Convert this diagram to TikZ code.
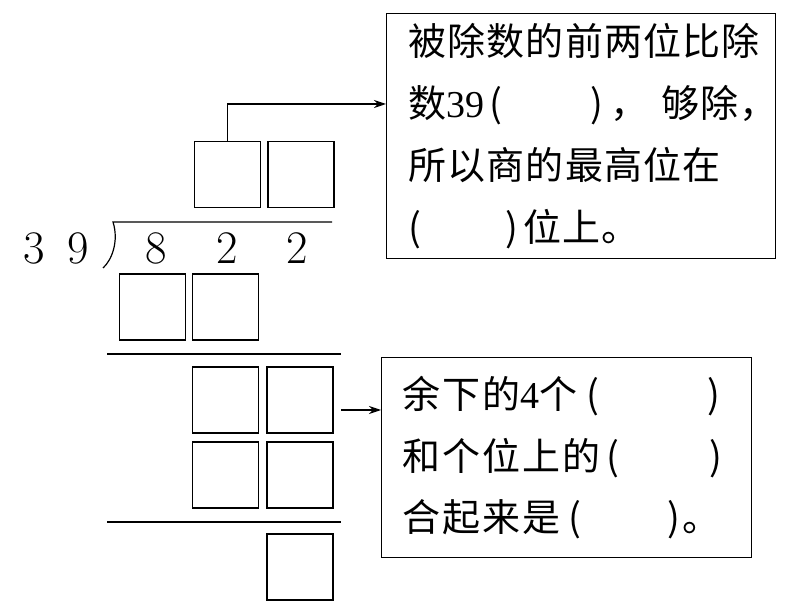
\documentclass[tikz,border=0pt]{standalone}
\usepackage{fontspec}
\usetikzlibrary{arrows.meta}
\newfontfamily\cjk[LetterSpace=3]{Noto Sans CJK SC}
\newfontfamily\cjkwide[LetterSpace=5]{Noto Sans CJK SC}
\newfontfamily\lat{Liberation Serif}
\begin{document}
\begin{tikzpicture}[>={Stealth[length=9pt,width=6pt]}, x=0.75pt, y=-0.75pt, line width=0.9pt,
  cell/.style={draw, minimum size=49.5pt, inner sep=0pt},
  digit/.style={font=\fontsize{35pt}{42pt}\selectfont, inner sep=0pt},
  note/.style={draw, anchor=north west, align=left, inner ysep=0pt}]
\useasboundingbox (0,0) rectangle (785,605);
% divisor and dividend
\node[digit] (d3) at (34.5,248) {3};
\node[digit] (d9) at (78,248) {9};
\node[digit] (n8) at (156,248) {8};
\node[digit] (n2a) at (227,248) {2};
\node[digit] (n2b) at (297,248) {2};
\draw (332,222) -- (113,222) .. controls (119,241) and (112,260) .. (103,268);
% quotient
\node[cell] (q1) at (227.5,174.5) {};
\node[cell] (q2) at (301,174.5) {};
% first product
\node[cell] (p1) at (152.5,307) {};
\node[cell] (p2) at (225.5,307) {};
\draw (107,354) -- (341,354);
% remainder and second product
\node[cell] (r1) at (225.5,400) {};
\node[cell] (r2) at (300,400) {};
\node[cell] (s1) at (225.5,475) {};
\node[cell] (s2) at (300,475) {};
\draw (107,522) -- (341,522);
\node[cell] (f) at (300,567) {};
% notes
\node[note, text width=258.75pt, inner xsep=16.5pt, minimum height=183.75pt,
  font=\cjk\fontsize{28.5pt}{46.3pt}\selectfont] (note1) at (386,13)
  {被除数的前两位比除\\
   数{\lat 39}\kern4pt(\kern66pt)\kern5pt，\kern10pt够除，\\
   所以商的最高位在\\
   (\kern63pt)\kern4pt位上。};
\node[note, text width=246pt, inner xsep=15.75pt, minimum height=150pt,
  font=\cjkwide\fontsize{28.5pt}{46pt}\selectfont] (note2) at (381,357)
  {余下的{\lat 4}个\kern7pt(\kern81pt)\\
   和个位上的\kern5pt(\kern67pt)\\
   合起来是\kern6pt(\kern65pt)。};
\coordinate (turn) at (227.5,104);
\coordinate (gap) at (341,410);
\draw[->] (q1.north) |- (note1.west |- turn);
\draw[->] (gap) -- (note2.west |- gap);
\end{tikzpicture}
\end{document}
